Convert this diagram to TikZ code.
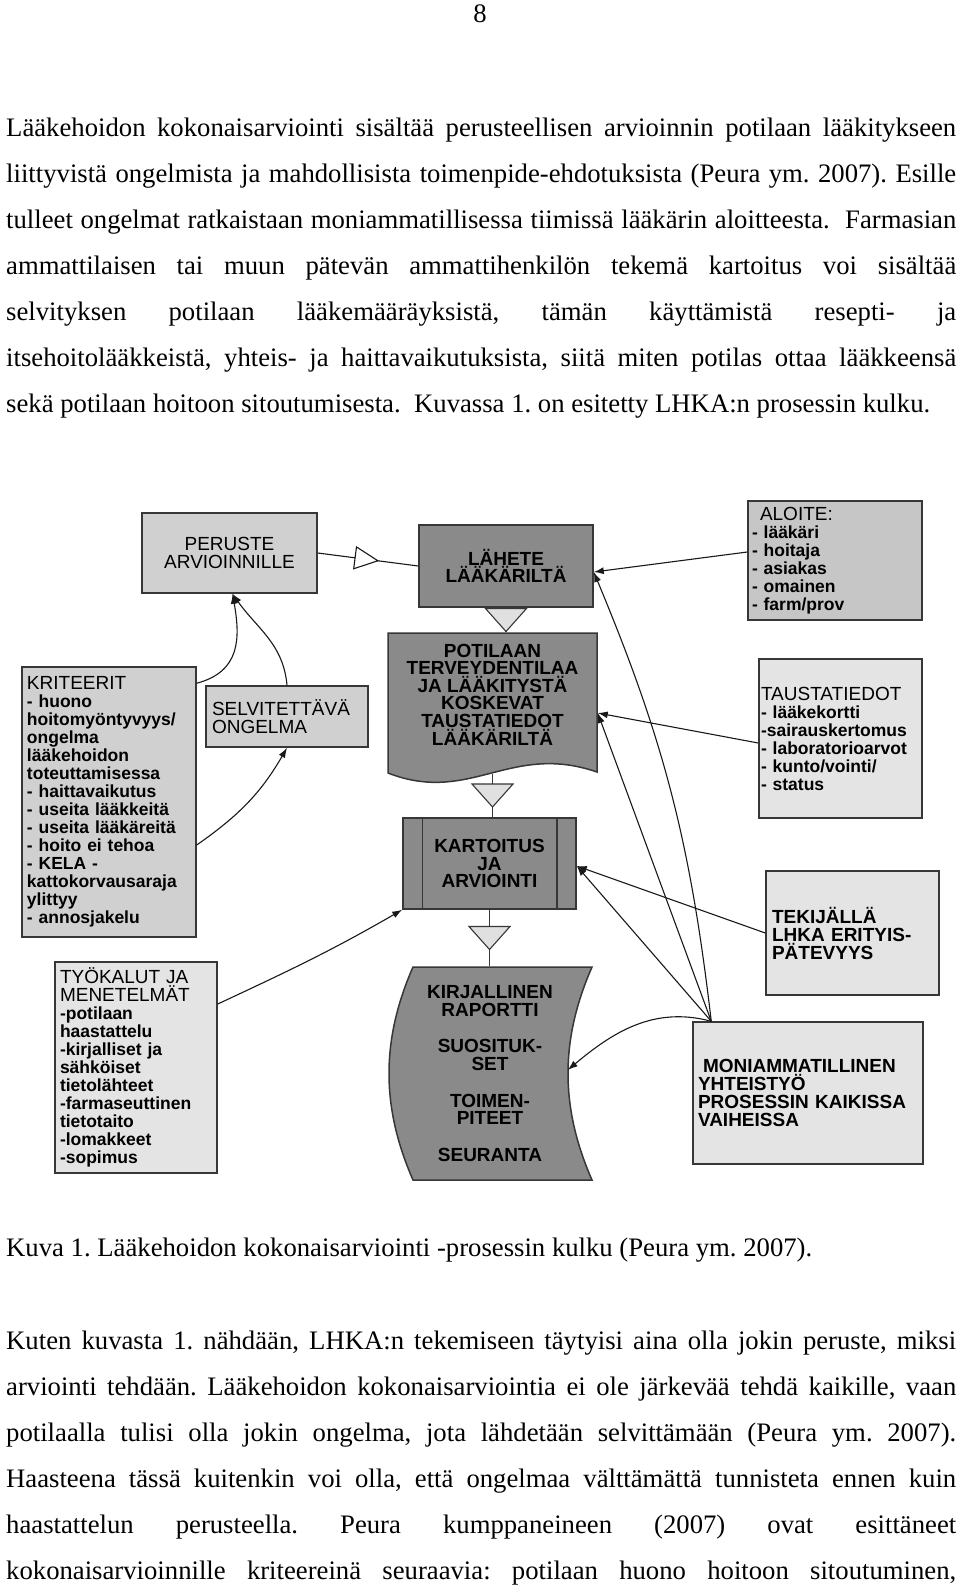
\documentclass[tikz,border=0pt]{standalone}
\usepackage{fontspec}
\setmainfont{Liberation Serif}
\newfontfamily\diafont{Liberation Sans}
\usetikzlibrary{arrows.meta, decorations.markings, calc}
\definecolor{boxline}{RGB}{55,55,55}
\definecolor{boxlight}{RGB}{208,208,208}
\definecolor{boxmid}{RGB}{198,198,198}
\definecolor{boxpale}{RGB}{228,228,228}
\definecolor{boxdark}{RGB}{138,138,138}
\definecolor{trifill}{RGB}{224,224,224}
\definecolor{linkblack}{RGB}{25,25,25}

\newcommand{\jline}[1]{\makebox[950pt][s]{#1}}
\newcommand{\boxhead}[1]{{\mdseries\fontsize{19pt}{18pt}\selectfont #1}}

\begin{document}
\begin{tikzpicture}[x=1pt, y=-1pt,
    body/.style={inner sep=0pt, align=left,
                 font=\frenchspacing\fontsize{26.7pt}{46.1pt}\selectfont},
    lightbox/.style={draw=boxline, line width=1.5pt, fill=boxlight, inner ysep=0pt},
    palebox/.style={draw=boxline, line width=1.5pt, fill=boxpale, inner ysep=0pt},
    darkbox/.style={draw=boxline, line width=1.5pt, fill=boxdark, inner ysep=0pt,
                    align=center, font=\diafont\bfseries\fontsize{19pt}{17.6pt}\selectfont},
    listbox/.style={align=left, font=\diafont\fontsize{17.5pt}{18pt}\selectfont},
    capsbox/.style={align=left, font=\diafont\bfseries\fontsize{19pt}{18pt}\selectfont},
    link/.style={draw=linkblack, line width=1.1pt, -{Latex[length=10pt,width=7pt]}},
    openmid/.style={draw=linkblack, line width=1.1pt, postaction={decorate},
      decoration={markings, mark=at position 0.485 with {
        \filldraw[fill=white, draw=linkblack, line width=1.1pt]
          (11.5pt,0pt) -- (-11.5pt,11pt) -- (-11.5pt,-11pt) -- cycle;}}},
    flow/.style={draw=boxline, line width=1.1pt, postaction={decorate},
      decoration={markings, mark=at position 0.5 with {
        \filldraw[fill=trifill, draw=boxline, line width=1.1pt]
          (11.5pt,0pt) -- (-11.5pt,20.5pt) -- (-11.5pt,-20.5pt) -- cycle;}}}
  ]
    \path[use as bounding box, fill=white] (0,0) rectangle (960,1589);

    \node[body] (pnum) at (480,14) {8};

    % base of a multi-line node is its last line
    \node[body, anchor=base west] (para1) at (6,412.6) {%
      \jline{Lääkehoidon kokonaisarviointi sisältää perusteellisen arvioinnin potilaan lääkitykseen}\\
      \jline{liittyvistä ongelmista ja mahdollisista toimenpide-ehdotuksista (Peura ym. 2007). Esille}\\
      \jline{tulleet ongelmat ratkaistaan moniammatillisessa tiimissä lääkärin aloitteesta.\ \ Farmasian}\\
      \jline{ammattilaisen tai muun pätevän ammattihenkilön tekemä kartoitus voi sisältää}\\
      \jline{selvityksen potilaan lääkemääräyksistä, tämän käyttämistä resepti- ja}\\
      \jline{itsehoitolääkkeistä, yhteis- ja haittavaikutuksista, siitä miten potilas ottaa lääkkeensä}\\
      sekä potilaan hoitoon sitoutumisesta.\ \ Kuvassa 1. on esitetty LHKA:n prosessin kulku.};

    % document shapes behind the text nodes
    \filldraw[fill=boxdark, draw=boxline, line width=1.5pt]
      (388,633) -- (597,633) -- (597,772) .. controls (510,742) and (470,805) .. (388,773) -- cycle;
    \filldraw[fill=boxdark, draw=boxline, line width=1.5pt]
      (413,967) -- (592,967) .. controls (560,1040) and (560,1107) .. (592,1180)
      -- (413,1180) .. controls (381,1107) and (381,1040) .. (413,967) -- cycle;

    \node[lightbox, minimum width=175pt, minimum height=80pt, align=center,
          font=\diafont\fontsize{19pt}{17.5pt}\selectfont] (per) at (229.5,553) {PERUSTE\\ARVIOINNILLE};
    \node[darkbox, minimum width=174pt, minimum height=82pt] (lah) at (506,566) {LÄHETE\\LÄÄKÄRILTÄ};
    \node[darkbox, draw=none, fill=none, minimum width=209pt, minimum height=123pt] (pot) at (492.5,694.5)
      {POTILAAN\\TERVEYDENTILAA\\JA LÄÄKITYSTÄ\\KOSKEVAT\\TAUSTATIEDOT\\LÄÄKÄRILTÄ};
    \node[darkbox, minimum width=173pt, minimum height=91pt] (kar) at (489.5,863.5) {KARTOITUS\\JA\\ARVIOINTI};
    \draw[boxline, line width=1.5pt] ([xshift=20pt]kar.north west) -- ([xshift=20pt]kar.south west)
      ([xshift=-20pt]kar.north east) -- ([xshift=-20pt]kar.south east);
    \node[darkbox, draw=none, fill=none, minimum width=154pt, minimum height=213pt] (kir) at (490,1073.5)
      {KIRJALLINEN\\RAPORTTI\\[19pt]SUOSITUK-\\SET\\[19pt]TOIMEN-\\PITEET\\[19pt]SEURANTA};

    \node[lightbox, text width=150pt, inner xsep=6pt, minimum height=61pt, align=left,
          font=\diafont\fontsize{19pt}{17.5pt}\selectfont] (sel) at (287,716.5) {SELVITETTÄVÄ\\ONGELMA};
    \node[lightbox, listbox, text width=164pt, inner xsep=5pt, minimum height=270pt] (kri) at (109,802)
      {\boxhead{KRITEERIT}\\\bfseries - huono\\hoitomyöntyvyys/\\ongelma\\lääkehoidon\\toteuttamisessa\\
       - haittavaikutus\\- useita lääkkeitä\\- useita lääkäreitä\\- hoito ei tehoa\\- KELA -\\
       kattokorvausaraja\\ylittyy\\- annosjakelu};
    \node[palebox, listbox, text width=152pt, inner xsep=5pt, minimum height=211pt] (tyo) at (136,1067.5)
      {\boxhead{TYÖKALUT JA\\MENETELMÄT}\\\bfseries -potilaan\\haastattelu\\-kirjalliset ja\\sähköiset\\
       tietolähteet\\-farmaseuttinen\\tietotaito\\-lomakkeet\\-sopimus};
    \node[lightbox, fill=boxmid, listbox, text width=166pt, inner xsep=4pt, minimum height=119pt] (alo) at (835,560.5)
      {\hspace*{8pt}\boxhead{ALOITE:}\\\bfseries - lääkäri\\- hoitaja\\- asiakas\\- omainen\\- farm/prov};
    \node[palebox, listbox, text width=159pt, inner xsep=2pt, minimum height=159pt] (tau) at (840.5,738.5)
      {\boxhead{TAUSTATIEDOT}\\\bfseries - lääkekortti\\-sairauskertomus\\- laboratorioarvot\\- kunto/vointi/\\- status};
    \node[palebox, capsbox, text width=161pt, inner xsep=6pt, minimum height=124pt] (tek) at (852.5,933)
      {TEKIJÄLLÄ\\LHKA ERITYIS-\\PÄTEVYYS};
    \node[palebox, capsbox, text width=220pt, inner xsep=5pt, minimum height=142pt] (mon) at (808,1093)
      {\hspace*{5pt}MONIAMMATILLINEN\\YHTEISTYÖ\\PROSESSIN KAIKISSA\\VAIHEISSA};

    \draw[openmid] (per.east) -- (lah.west);
    \draw[flow] (lah.south) -- (lah.south |- pot.north);
    \draw[flow] ([yshift=-17pt]pot.south) -- (pot.south |- kar.north);
    \draw[flow] (kar.south) -- (kar.south |- kir.north);

    \draw[link] ([yshift=-17pt]kri.north east) to[out=15, in=-80, looseness=1.2] ([xshift=3pt]per.south);
    \draw[link] (sel.north) to[out=95, in=-55] ([xshift=3pt]per.south);
    \draw[link] ([yshift=-43pt]kri.east) to[out=35, in=-120] (sel.south);
    \draw[link] ([yshift=63.5pt]tyo.east) to[out=25, in=-150] (kar.south west);
    \draw[link] ([yshift=8.5pt]alo.west) -- ([yshift=-6pt]lah.east);
    \draw[link] ([yshift=-4.5pt]tau.west) -- ([yshift=-18.5pt]pot.east);
    \draw[link] (tek.west) -- ([yshift=-2.5pt]kar.east);
    \coordinate (hub) at ([xshift=19pt]mon.north west);
    \draw[link] (hub) to[bend right=8] ([yshift=-6pt]lah.east);
    \draw[link] (hub) -- ([yshift=-18.5pt]pot.east);
    \draw[link] (hub) -- ([yshift=-2.5pt]kar.east);
    \draw[link] (hub) to[out=165, in=40] ([yshift=3.5pt]kir.east);

    \node[body, anchor=base west] (cap) at (6,1256)
      {Kuva 1. Lääkehoidon kokonaisarviointi -prosessin kulku (Peura ym. 2007).};

    \node[body, anchor=base west] (para2) at (6,1579.5) {%
      \jline{Kuten kuvasta 1. nähdään, LHKA:n tekemiseen täytyisi aina olla jokin peruste, miksi}\\
      \jline{arviointi tehdään. Lääkehoidon kokonaisarviointia ei ole järkevää tehdä kaikille, vaan}\\
      \jline{potilaalla tulisi olla jokin ongelma, jota lähdetään selvittämään (Peura ym. 2007).}\\
      \jline{Haasteena tässä kuitenkin voi olla, että ongelmaa välttämättä tunnisteta ennen kuin}\\
      \jline{haastattelun perusteella. Peura kumppaneineen (2007) ovat esittäneet}\\
      \jline{kokonaisarvioinnille kriteereinä seuraavia: potilaan huono hoitoon sitoutuminen,}};
  \end{tikzpicture}
\end{document}
